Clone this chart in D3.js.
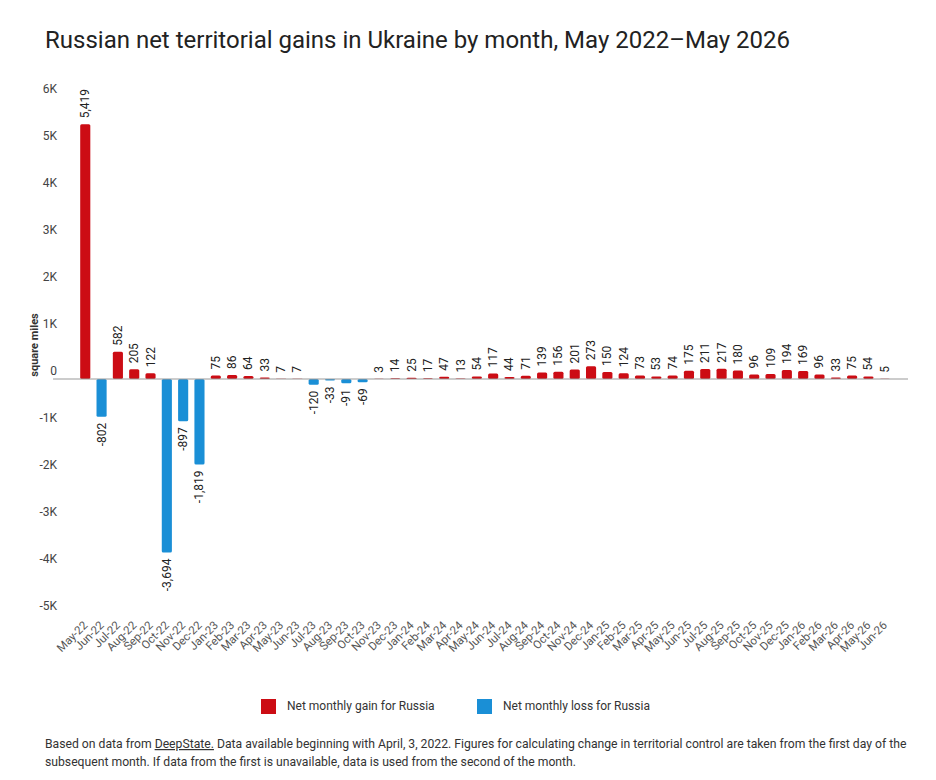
<!DOCTYPE html>
<html>
<head>
<meta charset="utf-8">
<script src="https://cdn.jsdelivr.net/npm/d3@7"></script>
<style>
  body { margin: 0; background: #fff; font-family: Roboto, sans-serif; }
</style>
</head>
<body>
<div id="chart"></div>
<script>
// months and net change (square miles)
const months = ['May-22','Jun-22','Jul-22','Aug-22','Sep-22','Oct-22','Nov-22','Dec-22',
  'Jan-23','Feb-23','Mar-23','Apr-23','May-23','Jun-23','Jul-23','Aug-23','Sep-23','Oct-23','Nov-23','Dec-23',
  'Jan-24','Feb-24','Mar-24','Apr-24','May-24','Jun-24','Jul-24','Aug-24','Sep-24','Oct-24','Nov-24','Dec-24',
  'Jan-25','Feb-25','Mar-25','Apr-25','May-25','Jun-25','Jul-25','Aug-25','Sep-25','Oct-25','Nov-25','Dec-25',
  'Jan-26','Feb-26','Mar-26','Apr-26','May-26','Jun-26'];
const values = [5419, -802, 582, 205, 122, -3694, -897, -1819,
  75, 86, 64, 33, 7, 7, -120, -33, -91, -69, 3, 14,
  25, 17, 47, 13, 54, 117, 44, 71, 139, 156, 201, 273,
  150, 124, 73, 53, 74, 175, 211, 217, 180, 96, 109, 194,
  169, 96, 33, 75, 54, 5];
const yTicks = [-5000, -4000, -3000, -2000, -1000, 0, 1000, 2000, 3000, 4000, 5000, 6000];
const legendItems = ['Net monthly gain for Russia', 'Net monthly loss for Russia'];

const red = '#cc0c14', blue = '#1a8fd6';
const width = 936, height = 780;

const svg = d3.select('#chart').append('svg')
  .attr('width', width).attr('height', height)
  .style('font-family', 'Roboto, sans-serif');

svg.append('text')
  .attr('x', 45).attr('y', 48)
  .style('font-size', '24px').style('fill', '#222')
  .text('Russian net territorial gains in Ukraine by month, May 2022\u2013May 2026');

const x = d3.scaleBand().domain(months).range([74, 896]).padding(0.38);
const y = d3.scaleLinear().domain([-5000, 6000]).range([614, 97]);

// y axis labels sit just above their (hidden) grid lines
const fmtK = d => d === 0 ? '0' : (d / 1000) + 'K';
svg.append('g').selectAll('text').data(yTicks).enter().append('text')
  .attr('x', 57).attr('y', d => y(d) - 4)
  .attr('text-anchor', 'end')
  .style('font-size', '12px').style('fill', '#444')
  .text(fmtK);

svg.append('text')
  .attr('transform', 'translate(38,' + (y(0) - 34) + ') rotate(-90)')
  .attr('text-anchor', 'middle')
  .style('font-size', '11px').style('font-weight', 'bold').style('fill', '#333')
  .text('square miles');

// bars
svg.append('g').selectAll('rect').data(values).enter().append('rect')
  .attr('x', (d, i) => x(months[i]))
  .attr('width', x.bandwidth())
  .attr('y', d => y(Math.max(0, d)))
  .attr('height', d => Math.abs(y(d) - y(0)))
  .attr('rx', 1.5)
  .style('fill', d => d >= 0 ? red : blue);

// zero line
svg.append('line')
  .attr('x1', 53).attr('x2', 908)
  .attr('y1', y(0)).attr('y2', y(0))
  .style('stroke', '#999').style('stroke-width', 1);

// value labels
const fmt = d3.format(',');
svg.append('g').selectAll('text').data(values).enter().append('text')
  .attr('transform', (d, i) => {
    const cx = x(months[i]) + x.bandwidth() / 2 + 4;
    const cy = d >= 0 ? y(d) - 6 : y(d) + 6;
    return 'translate(' + cx + ',' + cy + ') rotate(-90)';
  })
  .attr('text-anchor', d => d >= 0 ? 'start' : 'end')
  .style('font-size', '12px').style('fill', '#222')
  .text(d => fmt(d).replace('\u2212', '-'));

// x axis labels
svg.append('g').selectAll('text').data(months).enter().append('text')
  .attr('transform', d => 'translate(' + (x(d) + x.bandwidth() / 2 + 3) + ',626) rotate(-45)')
  .attr('text-anchor', 'end')
  .style('font-size', '11.5px').style('fill', '#555')
  .text(d => d);

// legend
const legend = svg.append('g');
const legendX = [261, 477];
legendItems.forEach((label, i) => {
  legend.append('rect')
    .attr('x', legendX[i]).attr('y', 699)
    .attr('width', 15).attr('height', 15)
    .style('fill', i === 0 ? red : blue);
  legend.append('text')
    .attr('x', legendX[i] + 26).attr('y', 710)
    .style('font-size', '12px').style('fill', '#333')
    .text(label);
});

// footer note
const note = svg.append('g').style('font-size', '12.2px').style('fill', '#333');
const line1 = note.append('text').attr('x', 45).attr('y', 748);
line1.append('tspan').text('Based on data from ');
line1.append('tspan').style('text-decoration', 'underline').text('DeepState.');
line1.append('tspan').text(' Data available beginning with April, 3, 2022. Figures for calculating change in territorial control are taken from the first day of the');
note.append('text').attr('x', 45).attr('y', 766)
  .text('subsequent month. If data from the first is unavailable, data is used from the second of the month.');
</script>
</body>
</html>
